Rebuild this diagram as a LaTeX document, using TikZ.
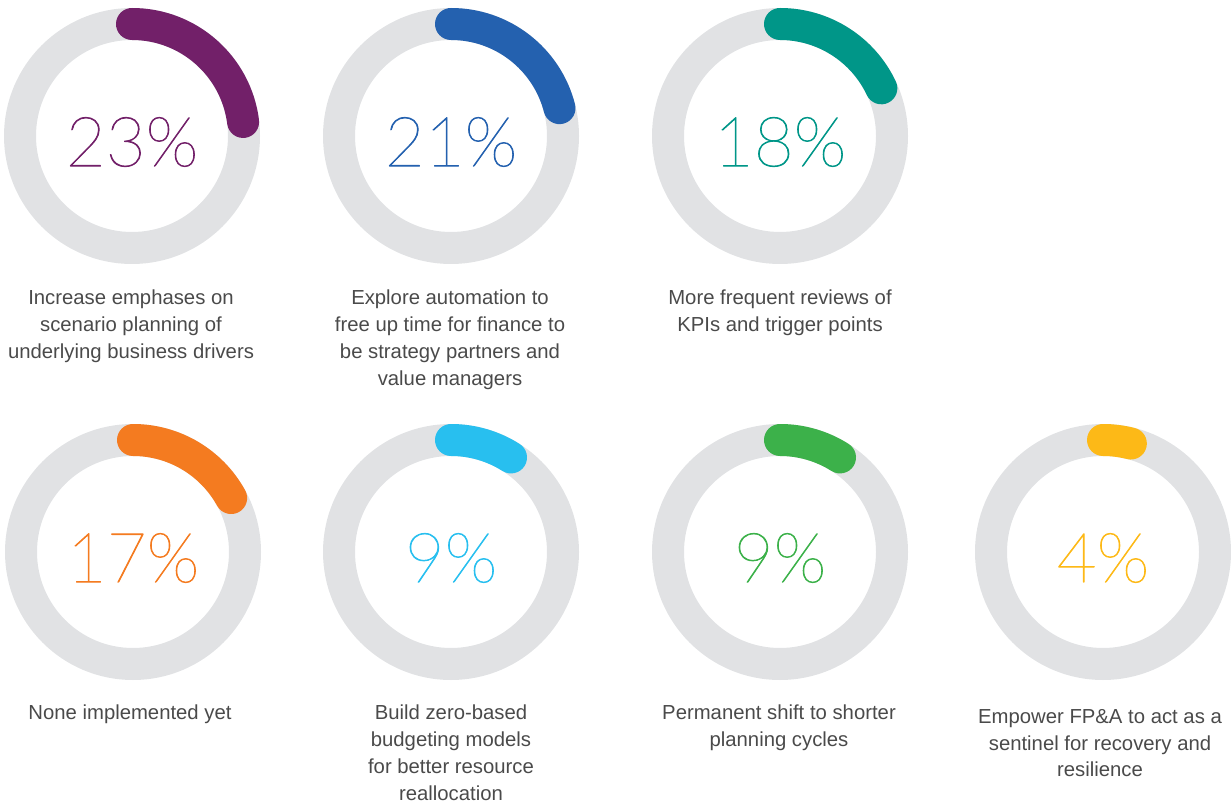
\documentclass[tikz,border=0pt]{standalone}
\usepackage{fontspec}
\setmainfont{Liberation Sans}
\IfFontExistsTF{Lato Hairline}{\newfontfamily\pctfont{Lato Hairline}}{\newfontfamily\pctfont{Lato}}
\newcommand{\heavier}[1]{\special{pdf:literal direct 2 Tr 0.8 w 1 j}#1\special{pdf:literal direct 0 Tr}}
\definecolor{ringgray}{HTML}{E1E2E4}
\definecolor{txtgray}{HTML}{4A4A4A}
\definecolor{cpurple}{HTML}{722069}
\definecolor{cblue}{HTML}{2461AF}
\definecolor{cteal}{HTML}{009688}
\definecolor{corange}{HTML}{F47B20}
\definecolor{clblue}{HTML}{28BFEF}
\definecolor{cgreen}{HTML}{3CB14A}
\definecolor{cyellow}{HTML}{FDB917}
\tikzset{
  ring/.style={draw=ringgray, line width=32pt},
  bar/.style={line width=32pt, line cap=round},
  pct/.style={font={\pctfont\fontsize{69}{76}\selectfont}, inner sep=0pt, anchor=center},
  lab/.style={font={\fontsize{20.3}{26.8}\selectfont}, text=txtgray, align=center, inner sep=0pt, anchor=north}
}
\newcommand{\donut}[5]{% name, x, y, percent, color
  \coordinate (#1) at (#2,#3);
  \draw[ring] (#1) circle[radius=112];
  \draw[bar,#5] ([shift={(90:112)}]#1) arc[start angle=90, end angle={90-3.6*#4}, radius=112];
  \node[pct,text=#5] (#1p) at ([yshift=-6]#1) {\heavier{#4\%}};
}
\begin{document}
\begin{tikzpicture}[x=1pt,y=1pt]
\useasboundingbox (0,0) rectangle (1231,804);
\donut{c1}{132}{668}{23}{cpurple}
\donut{c2}{451}{668}{21}{cblue}
\donut{c3}{780}{668}{18}{cteal}
\donut{c4}{133}{252}{17}{corange}
\donut{c5}{451}{252}{9}{clblue}
\donut{c6}{780}{252}{9}{cgreen}
\donut{c7}{1103}{252}{4}{cyellow}
\node[lab] (l1) at (131,514) {Increase emphases on\\scenario planning of\\underlying business drivers};
\node[lab] (l2) at (450,514) {Explore automation to\\free up time for finance to\\be strategy partners and\\value managers};
\node[lab] (l3) at (780,514) {More frequent reviews of\\KPIs and trigger points};
\node[lab] (l4) at (130,99) {None implemented yet};
\node[lab] (l5) at (451,99) {Build zero-based\\budgeting models\\for better resource\\reallocation};
\node[lab] (l6) at (779,99) {Permanent shift to shorter\\planning cycles};
\node[lab] (l7) at (1100,95) {Empower FP\&A to act as a\\sentinel for recovery and\\resilience};
\end{tikzpicture}
\end{document}
